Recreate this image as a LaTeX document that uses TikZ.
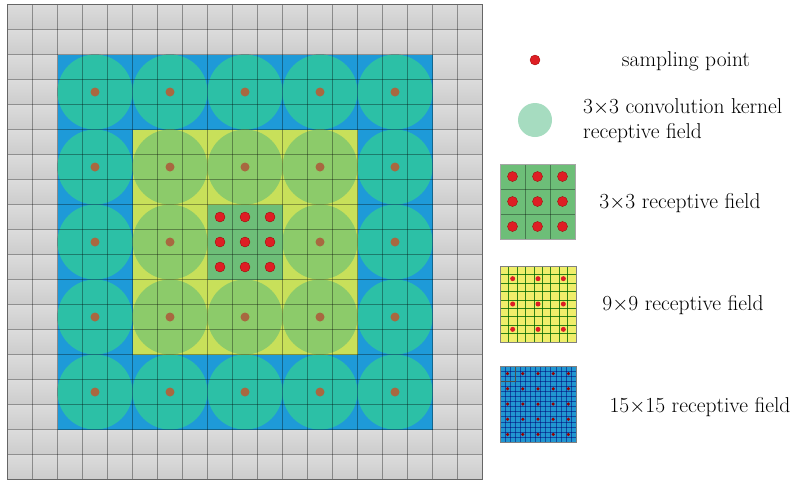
\documentclass[tikz,border=0pt]{standalone}
\usetikzlibrary{calc}
\definecolor{gcell}{RGB}{204,204,204}
\definecolor{gcelltop}{RGB}{220,220,220}
\definecolor{bluef}{RGB}{30,154,216}
\definecolor{tealc}{RGB}{44,192,166}
\definecolor{yelf}{RGB}{200,224,90}
\definecolor{lgc}{RGB}{140,203,106}
\definecolor{cgreen}{RGB}{109,190,120}
\definecolor{brownd}{RGB}{168,104,64}
\definecolor{redd}{RGB}{222,30,36}
\definecolor{legcirc}{RGB}{166,220,192}
\definecolor{legyel}{RGB}{240,238,106}
\definecolor{legblue}{RGB}{33,150,208}
\tikzset{
  gridline/.style={draw=black,draw opacity=0.35,line width=0.7pt},
  reddot/.style={circle,fill=redd,draw=red!60!black,line width=0.3pt,inner sep=0pt,minimum size=10pt},
  browndot/.style={circle,fill=brownd,inner sep=0pt,minimum size=9pt},
  lab/.style={font=\fontsize{21.5}{25}\selectfont,inner sep=0pt}
}
\begin{document}
\begin{tikzpicture}[x=1pt,y=-1pt]
\useasboundingbox (0,0) rectangle (794,480);
\def\xo{7.5}\def\yo{4.5}\def\c{25}
% gray cells
\foreach \i in {0,...,18}{
  \foreach \j in {0,...,18}{
    \shade[top color=gcelltop,bottom color=gcell]
      ({\xo+\i*\c},{\yo+\j*\c}) rectangle ({\xo+(\i+1)*\c},{\yo+(\j+1)*\c});
  }
}
% blue region
\fill[bluef] ({\xo+2*\c},{\yo+2*\c}) rectangle ({\xo+17*\c},{\yo+17*\c});
\foreach \i in {3,6,9,12,15}{
  \foreach \j in {3,6,9,12,15}{
    \fill[tealc] ({\xo+(\i+0.5)*\c},{\yo+(\j+0.5)*\c}) circle (37.5);
  }
}
% yellow region
\fill[yelf] ({\xo+5*\c},{\yo+5*\c}) rectangle ({\xo+14*\c},{\yo+14*\c});
\begin{scope}
  \clip ({\xo+5*\c},{\yo+5*\c}) rectangle ({\xo+14*\c},{\yo+14*\c});
  \foreach \i in {3,6,9,12,15}{
    \foreach \j in {3,6,9,12,15}{
      \fill[lgc] ({\xo+(\i+0.5)*\c},{\yo+(\j+0.5)*\c}) circle (37.5);
    }
  }
\end{scope}
% green center
\fill[cgreen] ({\xo+8*\c},{\yo+8*\c}) rectangle ({\xo+11*\c},{\yo+11*\c});
% grid lines
\foreach \k in {1,...,18}{
  \draw[gridline] ({\xo+\k*\c},{\yo}) -- ({\xo+\k*\c},{\yo+19*\c});
  \draw[gridline] ({\xo},{\yo+\k*\c}) -- ({\xo+19*\c},{\yo+\k*\c});
}
\draw[draw=black!60,line width=1pt] ({\xo},{\yo}) rectangle ({\xo+19*\c},{\yo+19*\c});
% brown dots
\foreach \i in {3,6,9,12,15}{
  \foreach \j in {3,6,9,12,15}{
    \ifnum\i=9 \ifnum\j=9 \else
      \node[browndot] (b\i\j) at ({\xo+(\i+0.5)*\c},{\yo+(\j+0.5)*\c}) {};
    \fi\else
      \node[browndot] (b\i\j) at ({\xo+(\i+0.5)*\c},{\yo+(\j+0.5)*\c}) {};
    \fi
  }
}
% red dots center
\foreach \i in {8,9,10}{
  \foreach \j in {8,9,10}{
    \node[reddot] (r\i\j) at ({\xo+(\i+0.5)*\c},{\yo+(\j+0.5)*\c}) {};
  }
}
% legend
\node[reddot,minimum size=10pt] (l1) at (535,60) {};
\node[lab] (t1) at (686,61) {sampling point};
\fill[legcirc] (535,120) circle (17);
\node[lab,anchor=west,align=left] (t2) at (583,121) {3$\times$3 convolution kernel\\receptive field};
% 3x3 legend
\fill[cgreen] (500,164) rectangle (575,239);
\foreach \k in {1,2}{
  \draw[gridline,line width=0.5pt] ({500+\k*25},164) -- ({500+\k*25},239);
  \draw[gridline,line width=0.5pt] (500,{164+\k*25}) -- (575,{164+\k*25});
}
\draw[draw=black!35,line width=0.5pt] (500,164) rectangle (575,239);
\foreach \i in {0,1,2}{\foreach \j in {0,1,2}{
  \node[reddot] (m\i\j) at ({512.5+\i*25},{176.5+\j*25}) {};
}}
\node[lab] (t3) at (680,203) {3$\times$3 receptive field};
% 9x9 legend
\fill[legyel] (500,266) rectangle (576,342);
\foreach \k in {1,...,8}{
  \draw[draw=black!60!green,draw opacity=0.8,line width=0.45pt] ({500+\k*76/9},266) -- ({500+\k*76/9},342);
  \draw[draw=black!60!green,draw opacity=0.8,line width=0.45pt] (500,{266+\k*76/9}) -- (576,{266+\k*76/9});
}
\draw[draw=black!50,line width=0.5pt] (500,266) rectangle (576,342);
\foreach \i in {1,4,7}{\foreach \j in {1,4,7}{
  \node[circle,fill=redd,inner sep=0pt,minimum size=5pt] (n\i\j) at ({500+(\i+0.5)*76/9},{266+(\j+0.5)*76/9}) {};
}}
\node[lab] (t4) at (683,305) {9$\times$9 receptive field};
% 15x15 legend
\fill[legblue] (500,366) rectangle (576,442);
\foreach \k in {1,...,14}{
  \draw[draw=black!55!blue,draw opacity=0.5,line width=0.4pt] ({500+\k*76/15},366) -- ({500+\k*76/15},442);
  \draw[draw=black!55!blue,draw opacity=0.5,line width=0.4pt] (500,{366+\k*76/15}) -- (576,{366+\k*76/15});
}
\draw[draw=black!70,line width=0.6pt] (500,366) rectangle ({500+3*76/15},{366+3*76/15});
\draw[draw=black!50,line width=0.5pt] (500,366) rectangle (576,442);
\foreach \i in {1,4,7,10,13}{\foreach \j in {1,4,7,10,13}{
  \node[circle,fill=red!60!black,inner sep=0pt,minimum size=3.5pt] (p\i\j) at ({500+(\i+0.5)*76/15},{366+(\j+0.5)*76/15}) {};
}}
\node[lab] (t5) at (700,407) {15$\times$15 receptive field};
\end{tikzpicture}
\end{document}
